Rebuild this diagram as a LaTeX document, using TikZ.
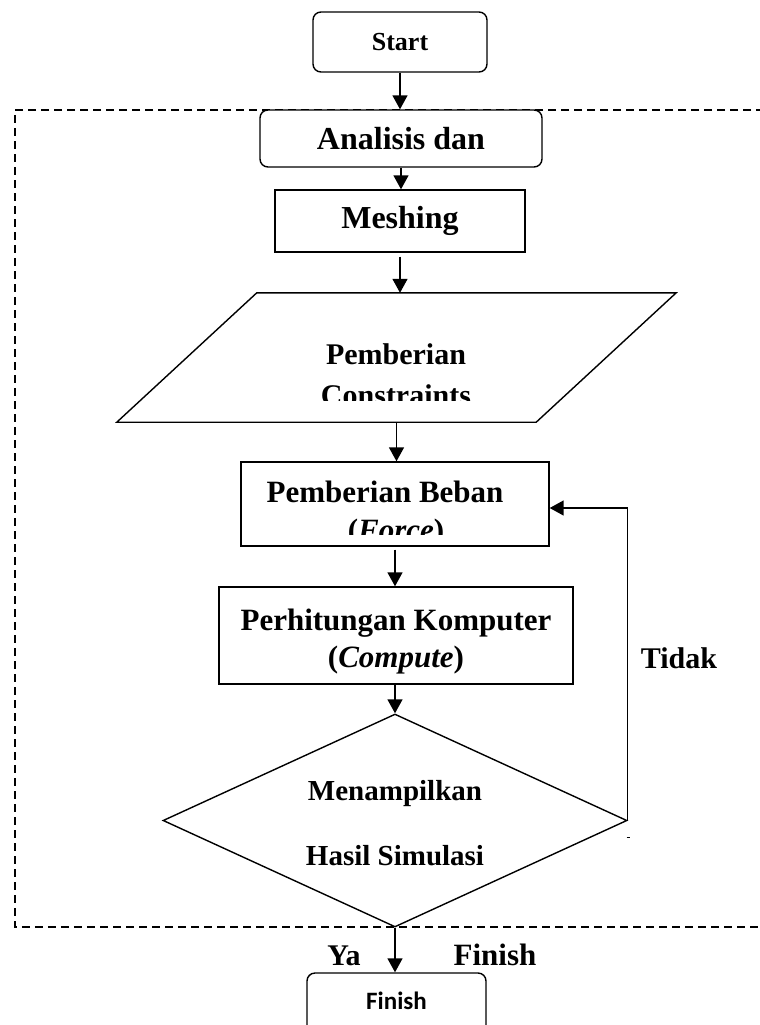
\documentclass[tikz,border=0pt]{standalone}
\usepackage{fontspec}
\setmainfont{Liberation Serif}
\newfontfamily\finishfont{Carlito}
\usetikzlibrary{arrows.meta,shapes.geometric}
\newcommand\fsz[1]{\fontsize{#1}{#1}\selectfont}
\begin{document}
\begin{tikzpicture}[x=1pt,y=-1pt,
  box/.style={draw,line width=1.4pt,inner sep=0pt,fill=white},
  rbox/.style={box,rounded corners=8pt},
  arr/.style={line width=1.5pt,-{Triangle[width=15pt,length=14pt]}},
  txt/.style={inner sep=0pt,anchor=base,font=\bfseries\fsz{31}},
  frame/.style={line width=1.5pt,dash pattern=on 8pt off 5pt},
]
\useasboundingbox (0,0) rectangle (760,1025);
\clip (0,0) rectangle (760,1025);

% dashed frame
\coordinate (ftr) at (790,110);
\coordinate (ftl) at (15,110);
\coordinate (fbl) at (15,927);
\coordinate (fbr) at (790,927);
\draw[frame] (ftr) -- (ftl) -- (fbl) -- (fbr);

% nodes
\node[rbox,minimum width=174pt,minimum height=60pt,font=\bfseries\fsz{26}] (start) at (400,42) {Start};
\node[rbox,minimum width=282pt,minimum height=57pt,font=\bfseries\fsz{32}] (ana) at (401,138.5) {Analisis dan};
\node[box,minimum width=250pt,minimum height=62pt,font=\bfseries\fsz{32}] (mesh) at (400,221) {Meshing};

\node[inner sep=0pt,minimum width=559pt,minimum height=129pt] (para) at (396.5,357.5) {};
\draw[line width=1.4pt,fill=white] (para.south west) -- ([xshift=140pt]para.north west) -- (para.north east) -- ([xshift=-140pt]para.south east) -- cycle;
\node[txt,font=\bfseries\fsz{30}] (paraA) at (396,364) {Pemberian};
\begin{scope}
  \clip (200,370) rectangle (600,400);
  \node[txt,font=\bfseries\fsz{30}] (paraB) at (396,405) {Constraints};
\end{scope}

\node[box,minimum width=308pt,minimum height=84pt] (beban) at (395,504) {};
\node[txt] (bebanA) at (385,502) {Pemberian Beban};
\begin{scope}
  \clip (300,508) rectangle (500,534);
  \node[txt] (bebanB) at (396,540) {(\textit{Force})};
\end{scope}

\node[box,minimum width=354pt,minimum height=97pt] (comp) at (396,635.5) {};
\node[txt] (compA) at (396,630) {Perhitungan Komputer};
\node[txt] (compB) at (396,667) {(\textit{Compute})};

\node[draw,diamond,line width=1.4pt,inner sep=0pt,minimum width=464pt,minimum height=213pt,fill=white] (dec) at (395,820.5) {};
\node[txt,font=\bfseries\fsz{29}] (decA) at (395,800) {Menampilkan};
\node[txt,font=\bfseries\fsz{29}] (decB) at (395,865) {Hasil Simulasi};

\node[rbox,minimum width=179pt,minimum height=80pt] (fin) at (396.5,1013) {};
\node[inner sep=0pt,anchor=base,font=\finishfont\bfseries\fsz{25}] (finText) at (396.5,1009) {Finish};

% labels
\node[txt,font=\bfseries\fsz{30}] (tidak) at (679,668) {Tidak};
\node[txt,font=\bfseries\fsz{30}] (ya) at (344,965) {Ya};
\node[txt] (finLabel) at (495,965) {Finish};

% connectors
\draw[arr] (start.south) -- (start.south |- ana.north);
\draw[arr] (ana.south) -- (ana.south |- mesh.north);
\draw[arr] ([yshift=-4pt]mesh.south) -- (mesh.south |- para.north);
\draw[arr] (para.south) -- (para.south |- beban.north);
\draw[arr] ([yshift=-3pt]beban.south) -- (beban.south |- comp.north);
\draw[arr] (dec.north |- comp.south) -- (dec.north);
\draw[arr] (dec.south) -- (dec.south |- fin.north);
\draw[arr] (dec.east) |- ([yshift=-4pt]beban.east);
\draw[line width=1pt] ([yshift=-17pt,xshift=-1pt]dec.east) -- ++(3,0);
\end{tikzpicture}
\end{document}
